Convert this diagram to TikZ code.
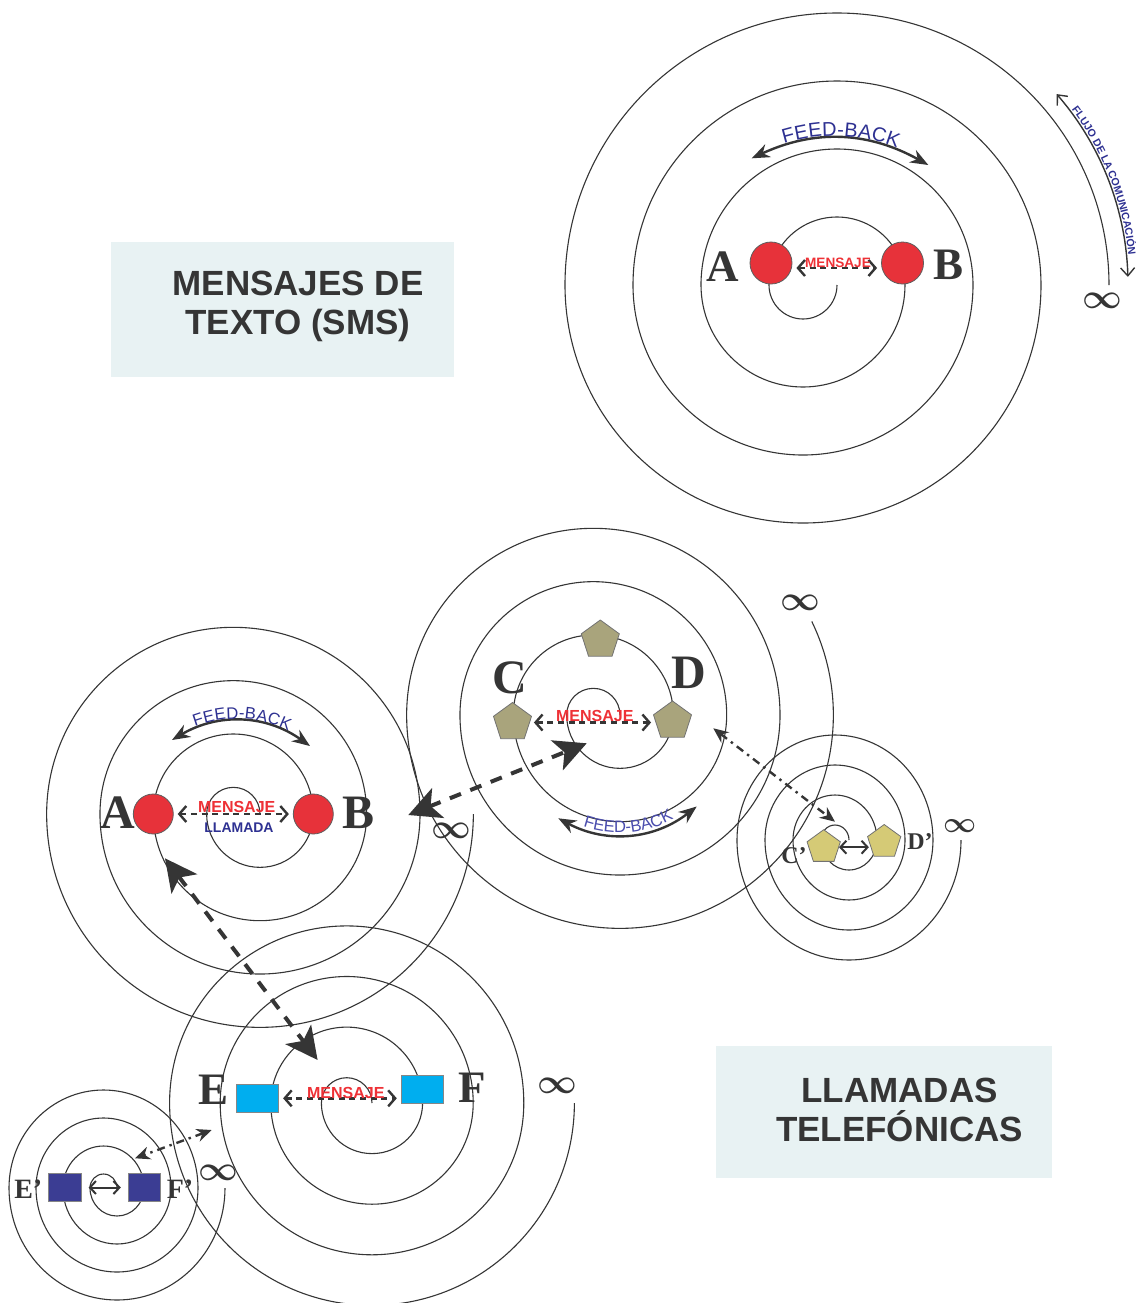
\documentclass[tikz,border=0pt]{standalone}
\usepackage{fontspec}
\setmainfont{Liberation Serif}
\setsansfont{Liberation Sans}
\usetikzlibrary{arrows.meta,shapes.geometric,decorations.text}

\definecolor{ink}{HTML}{353535}
\definecolor{msgred}{HTML}{EE3136}
\definecolor{fbblue}{HTML}{2E3192}
\definecolor{fbblue2}{HTML}{4A4DAE}
\definecolor{nodered}{HTML}{E7323A}
\definecolor{pentagray}{HTML}{A9A47C}
\definecolor{pentayel}{HTML}{D5CA76}
\definecolor{rectcyan}{HTML}{00AEEF}
\definecolor{rectnavy}{HTML}{3B3D93}
\definecolor{boxfill}{HTML}{E8F2F3}

\tikzset{
  spiralline/.style={draw=ink, line width=0.55pt},
  redcircle/.style={circle, draw=ink!80, line width=0.4pt, fill=nodered, inner sep=0pt},
  penta/.style={regular polygon, regular polygon sides=5, draw=ink!70, line width=0.4pt,
                fill=pentagray, minimum size=20pt, inner sep=0pt},
  cyanrect/.style={rectangle, draw=ink!60, line width=0.4pt, fill=rectcyan,
                   minimum width=21.3pt, minimum height=14pt, inner sep=0pt},
  navyrect/.style={rectangle, draw=ink!60, line width=0.4pt, fill=rectnavy,
                   minimum width=16.3pt, minimum height=14.2pt, inner sep=0pt},
  bigletter/.style={text=ink, inner sep=0pt, font=\bfseries\fontsize{#1}{#1}\selectfont},
  msgtext/.style={text=msgred, inner sep=0pt, font=\sffamily\bfseries\fontsize{#1}{#1}\selectfont},
  infsign/.style={text=ink, inner sep=0pt, font=\fontsize{#1}{#1}\selectfont\boldmath},
  titlebox/.style={rectangle, fill=boxfill, inner sep=0pt},
  titletext/.style={text=ink, align=center, inner sep=0pt,
                    font=\sffamily\bfseries\fontsize{17.5}{19.8}\selectfont},
  msgarrow/.style={draw=ink, line width=1.2pt, dash pattern=on 3pt off 2.3pt,
                   shorten <=2pt, shorten >=2pt,
                   {Straight Barb[length=3.5pt,width=8pt]}-{Straight Barb[length=3.5pt,width=8pt]}},
  duoarrow/.style={draw=ink, line width=1pt,
                   {Straight Barb[length=3pt,width=6.5pt]}-{Straight Barb[length=3pt,width=6.5pt]}},
  bigarrow/.style={draw=ink, line width=2pt, dash pattern=on 6pt off 5pt,
                   {Stealth[length=16pt,width=16pt,inset=4pt]}-{Stealth[length=16pt,width=16pt,inset=4pt]}},
  dotarrow/.style={draw=ink, line width=1.2pt, dash pattern=on 4pt off 2.5pt on 1.2pt off 2.5pt,
                   {Stealth[length=7.5pt,width=6.5pt]}-{Stealth[length=7.5pt,width=6.5pt]}},
  fbarrow/.style={draw=ink, line width=1.2pt,
                  {Stealth[length=9pt,width=7pt]}-{Stealth[length=9pt,width=7pt]}},
  flujoarrow/.style={draw=ink, line width=0.7pt,
                     {Straight Barb[length=4pt,width=7pt]}-{Straight Barb[length=4pt,width=7pt]}}
}

\begin{document}
\begin{tikzpicture}[x=0.5pt, y=0.5pt]
\fill[white] (0,0) rectangle (1136,-1303);
\useasboundingbox (0,0) rectangle (1136,-1303);

% title boxes
\node[titlebox, minimum width=171.5pt, minimum height=67.5pt] (smsbox) at (282.5,-309.5) {};
\node[titletext] (smstitle) at (298,-306.5) {MENSAJES DE\\TEXTO (SMS)};
\node[titlebox, minimum width=168pt, minimum height=66pt] (telbox) at (884,-1112) {};
\node[titletext] (teltitle) at (899.5,-1110) {LLAMADAS\\TELEFÓNICAS};

% spirals
\draw[spiralline] (837,-285) \foreach \k in {1,3,5,7}{
    arc[start angle=0, end angle=-180, radius=\k*34]
    arc[start angle=180, end angle=0, radius=(\k+1)*34]};
\draw[spiralline] (260,-814) \foreach \k in {1,3,5,7}{
    arc[start angle=0, end angle=180, radius=\k*26.67]
    arc[start angle=180, end angle=360, radius=(\k+1)*26.67]};
\draw[spiralline] (620,-715) \foreach \k in {1,3,5,7}{
    arc[start angle=0, end angle=180, radius=\k*26.67]
    arc[start angle=180, end angle=360, radius=(\k+1)*26.67]}
    arc[start angle=0, end angle=26, radius=213.4];
\draw[spiralline] (849,-840) \foreach \k in {1,3,5,7}{
    arc[start angle=0, end angle=180, x radius=\k*14, y radius=\k*15]
    arc[start angle=180, end angle=360, x radius=(\k+1)*14, y radius=(\k+1)*15]};
\draw[spiralline] (372,-1103) \foreach \k in {1,3,5,7}{
    arc[start angle=0, end angle=180, radius=\k*25.3]
    arc[start angle=180, end angle=360, radius=(\k+1)*25.3]};
\draw[spiralline] (117,-1188) \foreach \k in {1,3,5,7}{
    arc[start angle=0, end angle=180, x radius=\k*13.5, y radius=\k*14]
    arc[start angle=180, end angle=360, x radius=(\k+1)*13.5, y radius=(\k+1)*14]};

% end of each spiral
\node[infsign=17.5] (smsinf) at (1102.5,-301) {$\infty$};
\node[infsign=17.5] (abinf) at (451,-831) {$\infty$};
\node[infsign=17.5] (cdinf) at (800.5,-603) {$\infty$};
\node[infsign=13.5] (cpinf) at (960,-826) {$\infty$};
\node[infsign=17] (efinf) at (557,-1085.5) {$\infty$};
\node[infsign=17.5] (epinf) at (218,-1173) {$\infty$};

% flow of the communication
\coordinate (smsctr) at (837,-285);
\coordinate (flujo1) at ([shift={(41:291)}]smsctr);
\draw[flujoarrow] (flujo1) arc[start angle=41, end angle=1.6, radius=291];
\path[decorate, decoration={text along path, text align=center, raise=1pt, text color=fbblue,
      text={|\sffamily\bfseries\fontsize{5.3}{6}\selectfont|FLUJO DE LA COMUNICACIÓN}}]
    (flujo1) arc[start angle=41, end angle=1.6, radius=291];

% links between the spirals
\coordinate (abin) at (408.3,-815);
\coordinate (cdin) at (586.7,-743.3);
\draw[bigarrow] (abin) -- (cdin);
\coordinate (about) at (165,-858.3);
\coordinate (efin) at (317.6,-1060);
\draw[bigarrow] (about) -- (efin);
\coordinate (cdout) at (713.3,-728.3);
\coordinate (cpin) at (835,-821.7);
\draw[dotarrow] (cdout) -- (cpin);
\coordinate (efout) at (211.7,-1130);
\coordinate (epin) at (135,-1158.3);
\draw[dotarrow] (efout) -- (epin);

% sms: A and B
\node[redcircle, minimum size=21pt] (smsA) at (771,-263) {};
\node[redcircle, minimum size=21pt] (smsB) at (902.5,-263) {};
\node[bigletter=22.5] (smsAl) at (722.5,-266.5) {A};
\node[bigletter=22.5] (smsBl) at (949,-265) {B};
\draw[msgarrow] ([yshift=-2.5pt]smsA.east) -- ([yshift=-2.5pt]smsB.west);
\node[msgtext=6.8] (smsmsg) at (838,-262.5) {MENSAJE};
\coordinate (smsfb1) at (751.7,-158.3);
\coordinate (smsfb2) at (928.3,-165);
\draw[fbarrow] (smsfb1) to[bend left=27] (smsfb2);
\path[decorate, decoration={text along path, text align=center, raise=1pt, text color=fbblue,
      text={|\sffamily\fontsize{10}{10}\selectfont|FEED-BACK}}]
    (smsfb1) to[bend left=27] (smsfb2);

% call: A and B
\node[redcircle, minimum size=20pt] (abA) at (153.3,-814) {};
\node[redcircle, minimum size=20pt] (abB) at (313.3,-814) {};
\node[bigletter=24] (abAl) at (117.5,-812.5) {A};
\node[bigletter=24] (abBl) at (358.3,-812.5) {B};
\draw[msgarrow] (abA) -- (abB);
\node[msgtext=8] (abmsg) at (236.7,-806.7) {MENSAJE};
\node[msgtext=7, text=fbblue] (abcall) at (239,-827.5) {LLAMADA};
\coordinate (abfb1) at (172,-740);
\coordinate (abfb2) at (310,-746);
\draw[fbarrow] (abfb1) to[bend left=33] (abfb2);
\path[decorate, decoration={text along path, text align=center, raise=1pt, text color=fbblue,
      text={|\sffamily\fontsize{8.3}{8.3}\selectfont|FEED-BACK}}]
    (abfb1) to[bend left=33] (abfb2);

% call: C and D
\node[penta] (cdC) at (512.5,-722.5) {};
\node[penta] (cdD) at (672.5,-721) {};
\node[penta] (cdTop) at (600.3,-640) {};
\node[bigletter=24] (cdCl) at (510,-677.5) {C};
\node[bigletter=24] (cdDl) at (689,-672.5) {D};
\draw[msgarrow] (cdC.east) -- (cdC.east -| cdD.west);
\node[msgtext=8] (cdmsg) at (594.8,-716) {MENSAJE};
\coordinate (cdfb1) at (558.3,-818.3);
\coordinate (cdfb2) at (696.7,-806.5);
\draw[fbarrow] (cdfb1) to[bend right=33] (cdfb2);
\path[decorate, decoration={text along path, text align=center, raise=1pt, text color=fbblue2,
      text={|\sffamily\fontsize{8.3}{8.3}\selectfont|FEED-BACK}}]
    (cdfb1) to[bend right=33] (cdfb2);

% call: C' and D'
\node[penta, fill=pentayel, minimum size=17.5pt] (cpC) at (823.7,-847.2) {};
\node[penta, fill=pentayel, minimum size=17.5pt] (cpD) at (884.2,-842) {};
\node[bigletter=12] (cpCl) at (794,-856) {C’};
\node[bigletter=12] (cpDl) at (920,-841.7) {D’};
\draw[duoarrow] (cpC.east) -- (cpC.east -| cpD.west);

% call: E and F
\node[cyanrect] (efE) at (257.4,-1098.3) {};
\node[cyanrect] (efF) at (422.5,-1089.5) {};
\node[bigletter=22.5] (efEl) at (214,-1090) {E};
\node[bigletter=22.5] (efFl) at (472.5,-1088) {F};
\draw[msgarrow] (efE.east) -- (efE.east -| efF.west);
\node[msgtext=8] (efmsg) at (345.8,-1093.3) {MENSAJE};

% call: E' and F'
\node[navyrect] (epE) at (64.9,-1187.5) {};
\node[navyrect] (epF) at (144.5,-1187.5) {};
\node[bigletter=14] (epEl) at (28.3,-1189) {E’};
\node[bigletter=14] (epFl) at (180,-1189) {F’};
\draw[duoarrow, shorten <=3.5pt, shorten >=3.5pt] (epE) -- (epF);
\end{tikzpicture}
\end{document}
